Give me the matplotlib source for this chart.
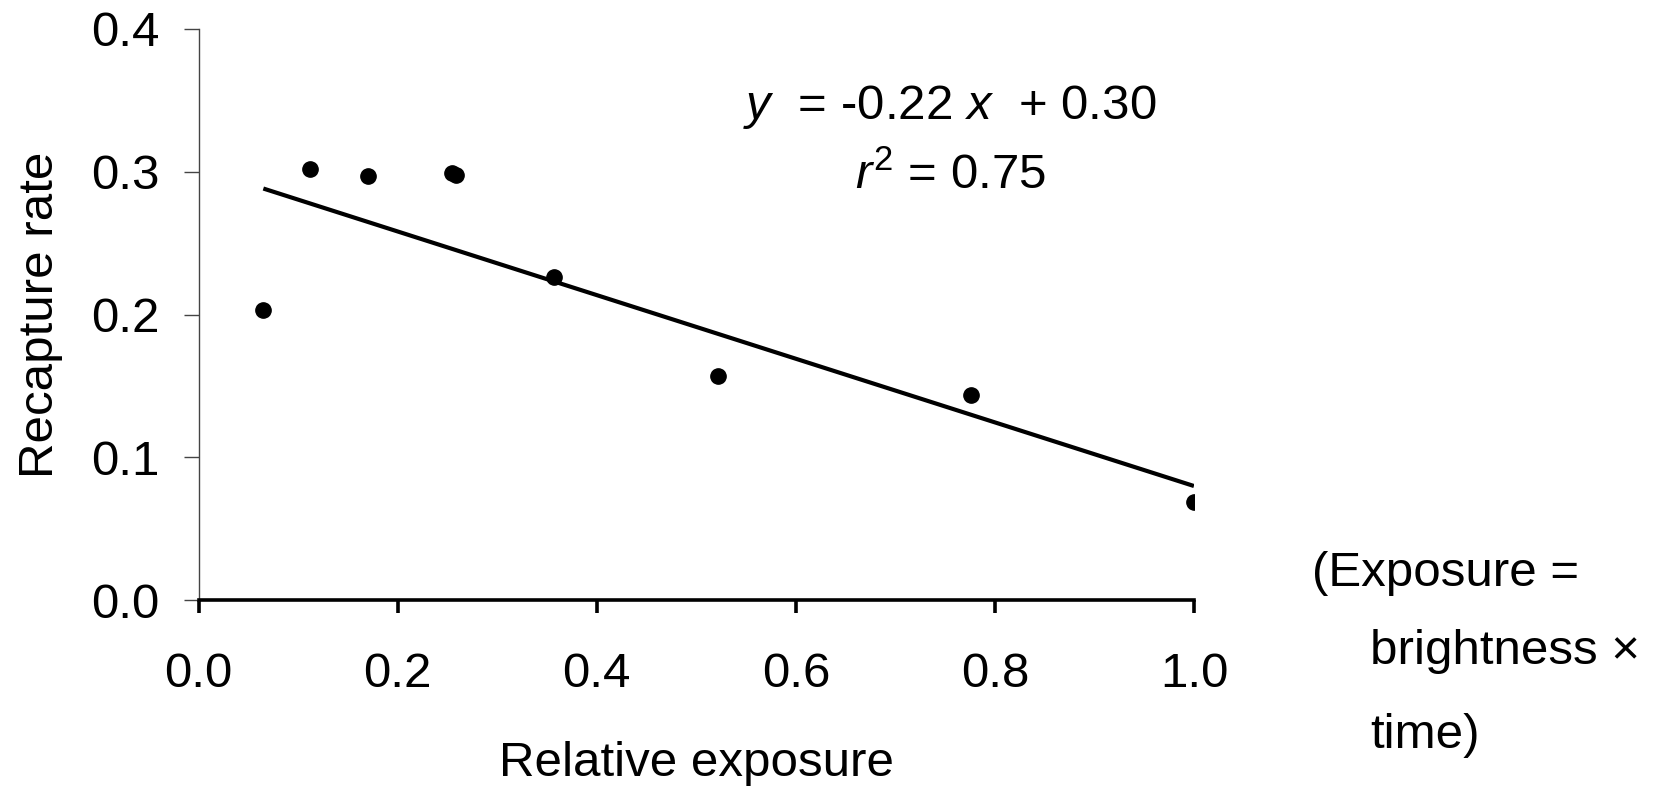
import numpy as np
import matplotlib
matplotlib.use('Agg')
import matplotlib.pyplot as plt

# --- Data -------------------------------------------------------------------
exposure = [0.065, 0.112, 0.170, 0.255, 0.259, 0.357, 0.522, 0.776, 1.000]
recapture = [0.203, 0.302, 0.297, 0.299, 0.298, 0.226, 0.157, 0.144, 0.069]

# fitted line shown on the chart
SLOPE = -0.2227
INTERCEPT = 0.3027
EQ_TEXT = '$y$  = -0.22 $x$  + 0.30'
R2_TEXT = '$r^2$ = 0.75'
NOTE_LINES = ['(Exposure =', 'brightness \u00d7', 'time)']

xticks = [0.0, 0.2, 0.4, 0.6, 0.8, 1.0]
yticks = [0.0, 0.1, 0.2, 0.3, 0.4]

plt.rcParams['font.family'] = ['Liberation Sans', 'DejaVu Sans']
plt.rcParams['mathtext.fontset'] = 'custom'
plt.rcParams['mathtext.rm'] = 'Liberation Sans'
plt.rcParams['mathtext.it'] = 'Liberation Sans:italic'

FS = 35.5

fig = plt.figure(figsize=(16.75, 7.88), dpi=100)
ax = fig.add_axes([0.1186, 0.2382, 0.7128 - 0.1186, 0.9634 - 0.2382])

ax.plot(exposure, recapture, 'o', color='black', markersize=11, zorder=3)

xfit = np.array([min(exposure), max(exposure)])
ax.plot(xfit, SLOPE * xfit + INTERCEPT, color='black', lw=3.0, solid_capstyle='butt')

ax.set_xlim(0, 1.0)
ax.set_ylim(0, 0.4)
ax.set_xticks(xticks)
ax.set_yticks(yticks)
ax.set_xticklabels([f'{v:.1f}' for v in xticks])
ax.set_yticklabels([f'{v:.1f}' for v in yticks])

for s in ['top', 'right']:
    ax.spines[s].set_visible(False)
ax.spines['left'].set_color('#444444')
ax.spines['left'].set_linewidth(1.0)
ax.spines['bottom'].set_linewidth(2.6)
ax.spines['bottom'].set_color('black')

ax.tick_params(axis='y', direction='out', length=11, width=1.0, color='#444444',
               labelsize=FS, pad=17)
ax.tick_params(axis='x', direction='out', length=9, width=2.6, color='black',
               labelsize=FS, pad=28)

ax.set_xlabel('Relative exposure', fontsize=FS, labelpad=32)
ax.set_ylabel('Recapture rate', fontsize=FS, labelpad=20)

ax.text(0.755, 0.345, EQ_TEXT, fontsize=FS, ha='center', va='center')
ax.text(0.755, 0.297, R2_TEXT, fontsize=FS, ha='center', va='center')

fig.text(1312 / 1675, 1 - 574 / 788, NOTE_LINES[0], fontsize=FS, ha='left', va='center')
fig.text(1370 / 1675, 1 - 652 / 788, NOTE_LINES[1], fontsize=FS, ha='left', va='center')
fig.text(1370 / 1675, 1 - 735 / 788, NOTE_LINES[2], fontsize=FS, ha='left', va='center')

fig.savefig('out.png', dpi=100)
